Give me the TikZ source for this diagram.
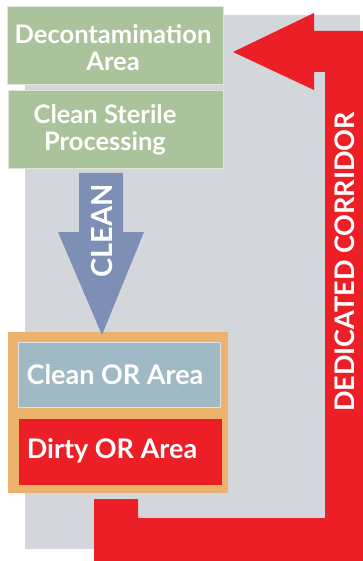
\documentclass[tikz,border=0pt]{standalone}
\usepackage{fontspec}
\setmainfont{Lato}
\definecolor{bggray}{HTML}{D3D6DA}
\definecolor{sage}{HTML}{ABC39A}
\definecolor{corred}{HTML}{EC1F27}
\definecolor{orbox}{HTML}{EDB36C}
\definecolor{orblue}{HTML}{9FB9C5}
\definecolor{cleanblue}{HTML}{7D8FB5}
\tikzset{
  area/.style={draw=white!60!#1, line width=0.8pt, fill=#1},
  lbl/.style={text=white, inner sep=0pt, font=\bfseries\fontsize{25.5}{27}\selectfont}
}
\begin{document}
\begin{tikzpicture}[x=1pt,y=-1pt]
\useasboundingbox (0,0) rectangle (363,561);
% gray background
\fill[bggray] (25,15) rectangle (360,549);
% green boxes
\path[area=sage] (7,6) rectangle (223,84);
\node[lbl, align=center] (decon) at (113,48) {Decontamination\\Area};
\path[area=sage] (8,90) rectangle (223,168);
\node[lbl, align=center] (csp) at (105,130) {Clean Sterile\\Processing};
% orange OR suite
\fill[orbox] (8,332) rectangle (228,493);
\path[area=orblue] (18,342) rectangle (220,407);
\node[lbl, font=\bfseries\fontsize{27}{29}\selectfont] (cleanor) at (115,375) {Clean OR Area};
\path[area=corred, draw=corred] (19,419) rectangle (221,484);
\node[lbl, font=\bfseries\fontsize{27}{29}\selectfont] (dirtyor) at (112,451) {Dirty OR Area};
% clean arrow
\fill[cleanblue] (79,173) -- (123,173) -- (123,232) -- (144,232) -- (102,335) -- (58,232) -- (79,232) -- cycle;
\node[lbl, rotate=90, font=\bfseries\fontsize{29}{31}\selectfont] (cleantxt) at (102,231) {CLEAN};
% dedicated corridor
\fill[corred] (233,52) -- (314,13) -- (314,31) -- (363,31) -- (363,561) -- (94,561) -- (94,499) -- (138,499) -- (138,518) -- (325,518) -- (325,72) -- (314,72) -- (314,90) -- cycle;
\node[lbl, rotate=90, font=\bfseries\fontsize{27}{29}\selectfont] (corr) at (345,262) {DEDICATED CORRIDOR};
\end{tikzpicture}
\end{document}
